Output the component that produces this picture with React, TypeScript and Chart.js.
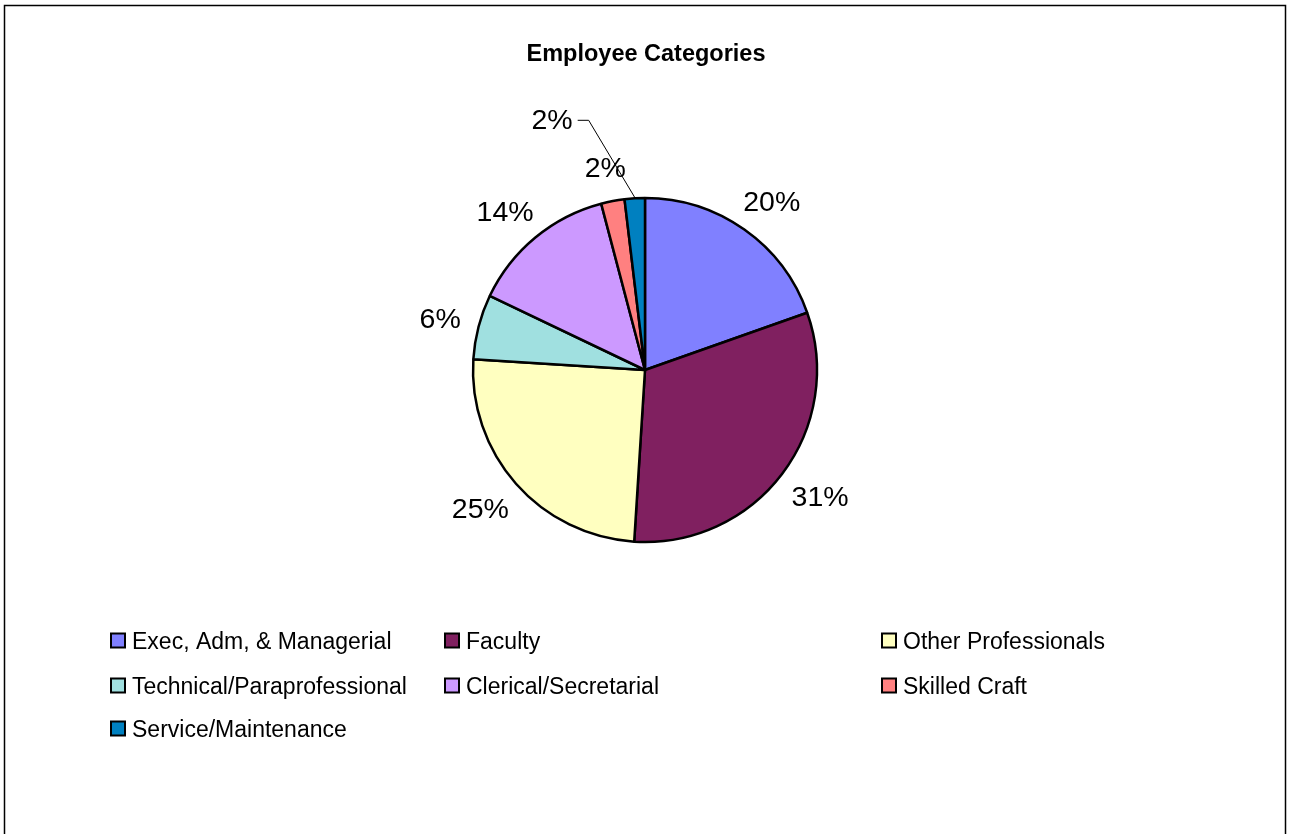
import React, { useEffect, useRef } from "react";
import { Chart, registerables } from "chart.js";

Chart.register(...registerables);

const TITLE = "Employee Categories";
const categories = [
  "Exec, Adm, & Managerial",
  "Faculty",
  "Other Professionals",
  "Technical/Paraprofessional",
  "Clerical/Secretarial",
  "Skilled Craft",
  "Service/Maintenance",
];
const shares = [19.6, 31.4, 25.0, 6.1, 13.8, 2.2, 1.9];
const colors = ["#8080FF", "#802060", "#FFFFC0", "#A0E0E0", "#CC99FF", "#FF8080", "#0080C0"];

const W = 1290;
const H = 834;
const FONT = '"Liberation Sans", Arial, sans-serif';
const LABEL_GAP_X = 18;
const LABEL_GAP_Y = 35;
const legendColX = [111, 445, 882];
const legendRowY = [640.5, 685.5, 728.5];

const framePlugin = {
  id: "frame",
  beforeDraw(chart: any) {
    const ctx = chart.ctx;
    ctx.save();
    ctx.fillStyle = "#ffffff";
    ctx.fillRect(0, 0, W, H);
    ctx.strokeStyle = "#000000";
    ctx.lineWidth = 1.5;
    ctx.strokeRect(4.5, 5.5, 1281, H + 20);
    ctx.fillStyle = "#000000";
    ctx.font = `bold 23.5px ${FONT}`;
    ctx.textAlign = "center";
    ctx.textBaseline = "middle";
    ctx.fillText(TITLE, 646, 55);
    ctx.restore();
  },
};

const labelPlugin = {
  id: "pieLabels",
  afterDatasetsDraw(chart: any) {
    const ctx = chart.ctx;
    const meta = chart.getDatasetMeta(0);
    const values = chart.data.datasets[0].data as number[];
    ctx.save();
    ctx.fillStyle = "#000000";
    ctx.font = `28.5px ${FONT}`;
    ctx.textBaseline = "middle";
    meta.data.forEach((el: any, i: number) => {
      const p = el.getProps(["x", "y", "startAngle", "endAngle", "outerRadius"], true);
      const mid = (p.startAngle + p.endAngle) / 2;
      const c = Math.cos(mid);
      const s = Math.sin(mid);
      const txt = `${Math.round(values[i])}%`;
      const w = ctx.measureText(txt).width;
      const r = p.outerRadius + 1;
      if (i === values.length - 1) {
        const x0 = p.x + c * r;
        const y0 = p.y + s * r;
        const x1 = x0 - 46;
        const y1 = y0 - 77;
        const x2 = x1 - 11;
        ctx.strokeStyle = "#000000";
        ctx.lineWidth = 1;
        ctx.beginPath();
        ctx.moveTo(x0, y0);
        ctx.lineTo(x1, y1);
        ctx.lineTo(x2, y1);
        ctx.stroke();
        ctx.textAlign = "right";
        ctx.fillText(txt, x2 - 5, y1 + 1);
      } else {
        ctx.textAlign = "center";
        const cx = p.x + c * (r + w / 2 + LABEL_GAP_X);
        const cy = p.y + s * (r + LABEL_GAP_Y) + 3;
        ctx.fillText(txt, cx, cy);
      }
    });
    ctx.restore();
  },
  afterDraw(chart: any) {
    const ctx = chart.ctx;
    ctx.save();
    ctx.font = `23px ${FONT}`;
    ctx.textAlign = "left";
    ctx.textBaseline = "alphabetic";
    categories.forEach((name, i) => {
      const x = legendColX[i % 3];
      const y = legendRowY[Math.floor(i / 3)];
      ctx.fillStyle = colors[i];
      ctx.fillRect(x, y - 7, 14, 14);
      ctx.strokeStyle = "#000000";
      ctx.lineWidth = 2;
      ctx.strokeRect(x, y - 7, 14, 14);
      ctx.fillStyle = "#000000";
      ctx.fillText(name, x + 21, y + 8.5);
    });
    ctx.restore();
  },
};

export default function App() {
  const ref = useRef<HTMLCanvasElement | null>(null);
  useEffect(() => {
    if (!ref.current) return;
    const chart = new Chart(ref.current, {
      type: "pie",
      data: {
        labels: categories,
        datasets: [
          {
            data: shares,
            backgroundColor: colors,
            borderColor: "#000000",
            borderWidth: 2.5,
            radius: 172,
          } as any,
        ],
      },
      options: {
        responsive: false,
        animation: false,
        devicePixelRatio: 1,
        layout: { padding: { left: 100, right: 100, top: 100, bottom: 194 } },
        plugins: {
          legend: { display: false },
          title: { display: false },
          tooltip: { enabled: false },
        },
      },
      plugins: [framePlugin, labelPlugin],
    });
    return () => chart.destroy();
  }, []);
  return (
    <div style={{ position: "absolute", left: 0, top: 0, width: W, height: H, background: "#fff" }}>
      <canvas ref={ref} width={W} height={H} style={{ display: "block", width: W, height: H }} />
    </div>
  );
}
